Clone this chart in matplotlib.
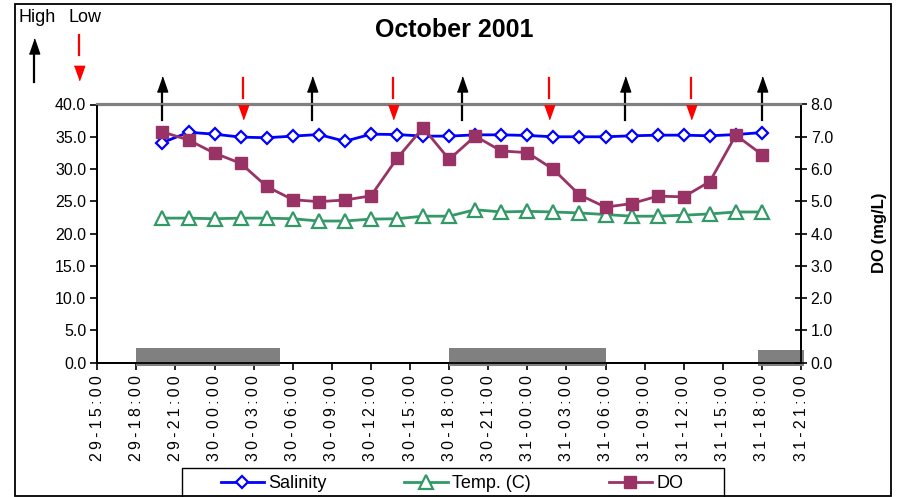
import matplotlib
matplotlib.use("Agg")
import matplotlib.pyplot as plt
import matplotlib.transforms as mtransforms
from matplotlib.patches import Rectangle
from matplotlib.lines import Line2D

# sample times are "day-hh:mm" in October 2001
sample_times = [
    "29-20:00", "29-22:00", "30-00:00", "30-02:00", "30-04:00", "30-06:00",
    "30-08:00", "30-10:00", "30-12:00", "30-14:00", "30-16:00", "30-18:00",
    "30-20:00", "30-22:00", "31-00:00", "31-02:00", "31-04:00", "31-06:00",
    "31-08:00", "31-10:00", "31-12:00", "31-14:00", "31-16:00", "31-18:00",
]
salinity = [
    34.1, 35.7, 35.4, 34.95, 34.85, 35.1, 35.35, 34.3, 35.4, 35.35, 35.1, 35.1,
    35.3, 35.3, 35.2, 35.0, 35.0, 35.0, 35.15, 35.25, 35.25, 35.15, 35.35, 35.65,
]
temperature = [
    22.4, 22.4, 22.3, 22.4, 22.4, 22.3, 21.95, 21.95, 22.25, 22.3, 22.7, 22.7,
    23.7, 23.35, 23.45, 23.35, 23.2, 22.95, 22.7, 22.7, 22.85, 23.05, 23.35, 23.35,
]
dissolved_oxygen = [
    7.15, 6.9, 6.49, 6.18, 5.46, 5.05, 4.99, 5.04, 5.17, 6.33, 7.28, 6.30,
    7.02, 6.56, 6.51, 5.99, 5.20, 4.82, 4.93, 5.16, 5.14, 5.61, 7.05, 6.45,
]

tick_labels = [
    "29-15:00", "29-18:00", "29-21:00", "30-00:00", "30-03:00", "30-06:00",
    "30-09:00", "30-12:00", "30-15:00", "30-18:00", "30-21:00", "31-00:00",
    "31-03:00", "31-06:00", "31-09:00", "31-12:00", "31-15:00", "31-18:00",
    "31-21:00",
]
left_ticks = [0, 5, 10, 15, 20, 25, 30, 35, 40]
right_ticks = [0, 1, 2, 3, 4, 5, 6, 7, 8]

high_tide_times = ["29-20:00", "30-07:30", "30-19:00", "31-07:30", "31-18:00"]
low_tide_times = ["30-02:10", "30-13:40", "31-01:40", "31-12:35"]

# dark periods shown as grey bands on the time axis
night_starts = ["29-18:00", "30-18:00", "31-17:40"]
night_ends = ["30-05:00", "31-06:00", "31-21:15"]
night_tops = [2.2, 2.2, 1.95]


def to_hours(stamp):
    day, hm = stamp.split("-")
    h, m = hm.split(":")
    return (int(day) - 29) * 24 + int(h) + int(m) / 60


W, H = 897, 497
AX_L, AX_R, AX_T, AX_B = 97.3, 801.0, 104.5, 362.7

BLUE = "#0000FF"
GREEN = "#339966"
PLUM = "#993366"
GREY = "#808080"

plt.rcParams["font.family"] = ["Liberation Sans", "DejaVu Sans"]

fig = plt.figure(figsize=(W / 100, H / 100), dpi=100)
ax = fig.add_axes([AX_L / W, 1 - AX_B / H, (AX_R - AX_L) / W, (AX_B - AX_T) / H])
ax2 = ax.twinx()

x = [to_hours(t) for t in sample_times]

ax.plot(x, salinity, color=BLUE, lw=2, marker="D", markersize=6.5,
        markerfacecolor="white", markeredgecolor=BLUE, markeredgewidth=1.6,
        label="Salinity", zorder=3)
ax.plot(x, temperature, color=GREEN, lw=2, marker="^", markersize=9.5,
        markerfacecolor="white", markeredgecolor=GREEN, markeredgewidth=1.6,
        label="Temp. (C)", zorder=3)
ax2.plot(x, dissolved_oxygen, color=PLUM, lw=2, marker="s", markersize=8.8,
         markerfacecolor=PLUM, markeredgecolor=PLUM, label="DO", zorder=3)

xmin, xmax = to_hours(tick_labels[0]), to_hours(tick_labels[-1])
ax.set_xlim(xmin, xmax)
ax.set_ylim(0, 40)
ax2.set_ylim(0, 8)

ax.set_xticks([to_hours(t) for t in tick_labels])
ax.set_xticklabels(["\u2009".join(t) for t in tick_labels], rotation=90,
                   fontsize=11.5)
ax.set_yticks(left_ticks)
ax.set_yticklabels([f"{v:.1f}" for v in left_ticks], fontsize=11.5)
ax2.set_yticks(right_ticks)
ax2.set_yticklabels([f"{v:.1f}" for v in right_ticks], fontsize=11.5)

ax.tick_params(axis="x", direction="out", length=5, width=1.2, pad=4)
ax.tick_params(axis="y", direction="out", length=5, width=1.2, pad=3)
ax2.tick_params(axis="y", direction="inout", length=8, width=1.2, pad=3)

for a in (ax, ax2):
    for side in ("left", "right", "bottom"):
        a.spines[side].set_color("black")
        a.spines[side].set_linewidth(1.3)
    a.spines["top"].set_color(GREY)
    a.spines["top"].set_linewidth(1.6)

# night bands
for s, e, top in zip(night_starts, night_ends, night_tops):
    x0, x1 = to_hours(s), to_hours(e)
    ax.add_patch(Rectangle((x0, -0.45), x1 - x0, top + 0.45, facecolor=GREY,
                           edgecolor="none", clip_on=False, zorder=5))

# tide arrows above the plot
blend = mtransforms.blended_transform_factory(ax.transData, ax.transAxes)


def fy(py):
    return (AX_B - py) / (AX_B - AX_T)


up_head = [(-0.69, -1), (0.69, -1), (0, 1)]
down_head = [(-0.72, 1), (0.72, 1), (0, -1)]

for t in high_tide_times:
    h = to_hours(t)
    ax.add_line(Line2D([h, h], [fy(120), fy(86)], color="black", lw=1.6,
                       transform=blend, clip_on=False, zorder=6))
    ax.plot([h], [fy(83.5)], marker=up_head, markersize=10.8, color="black",
            transform=blend, clip_on=False, zorder=6)

for t in low_tide_times:
    h = to_hours(t)
    ax.add_line(Line2D([h, h], [fy(78), fy(98)], color="red", lw=1.6,
                       transform=blend, clip_on=False, zorder=6))
    ax.plot([h], [fy(112)], marker=down_head, markersize=10.3, color="red",
            transform=blend, clip_on=False, zorder=6)

# key for tide arrows, top left
fig.text(18 / W, 1 - 18 / H, "High", fontsize=13, ha="left", va="center")
fig.text(68 / W, 1 - 18 / H, "Low", fontsize=13, ha="left", va="center")
fig.add_artist(Line2D([34 / W, 34 / W], [1 - 82 / H, 1 - 48 / H], color="black",
                      lw=1.6, transform=fig.transFigure))
fig.add_artist(Line2D([34 / W], [1 - 45.5 / H], marker=up_head, markersize=10.8,
                      color="black", transform=fig.transFigure))
fig.add_artist(Line2D([79 / W, 79 / W], [1 - 35 / H, 1 - 55 / H], color="red",
                      lw=1.6, transform=fig.transFigure))
fig.add_artist(Line2D([79 / W], [1 - 73 / H], marker=down_head, markersize=10.3,
                      color="red", transform=fig.transFigure))

fig.text(454 / W, 1 - 30 / H, "October 2001", fontsize=18, fontweight="bold",
         ha="center", va="center")
fig.text(879 / W, 1 - 233 / H, "DO (mg/L)", fontsize=12, fontweight="bold",
         rotation=90, ha="center", va="center")

# legend at the bottom
handles = ax.get_lines()[:2] + ax2.get_lines()[:1]
fig.legend(handles, ["Salinity", "Temp. (C)", "DO"], loc="center",
           bbox_to_anchor=(452 / W, 1 - 484 / H), ncol=3, frameon=False,
           fontsize=13, handlelength=2.4, handletextpad=0.25,
           columnspacing=4.3, numpoints=1)
fig.add_artist(Rectangle((182 / W, 1 - 505 / H), 542 / W, 37 / H,
                         transform=fig.transFigure, fill=False,
                         edgecolor="black", lw=1.0))

# outer chart border
fig.add_artist(Rectangle((15 / W, 1 - 496 / H), 876 / W, 492 / H,
                         transform=fig.transFigure, fill=False,
                         edgecolor="black", lw=1.3))

fig.savefig("out.png", dpi=100)
